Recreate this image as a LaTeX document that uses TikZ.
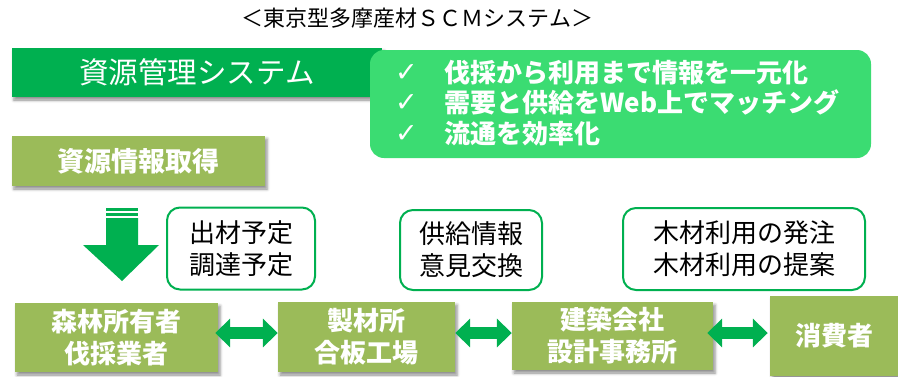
\documentclass[tikz,border=0pt]{standalone}
\usepackage{fontspec}
\setmainfont{Noto Sans CJK JP}
\newfontfamily\symfont{DejaVu Sans}
\usetikzlibrary{arrows.meta,shadows.blur,calc}
\definecolor{dkgreen}{HTML}{00B050}
\definecolor{ltgreen}{HTML}{3BDC72}
\definecolor{olive}{HTML}{9BBB59}
\tikzset{
  shadowed/.style={blur shadow={shadow xshift=2pt,shadow yshift=-3pt,shadow blur radius=3pt,shadow opacity=45}},
  olivebox/.style={fill=olive,draw=none,shadowed,text=white,font=\fontsize{26}{32}\selectfont\bfseries,align=center,inner sep=0pt},
  notebox/.style={draw=dkgreen,line width=2pt,rounded corners=13pt,fill=white,text=black,font=\fontsize{26}{32}\selectfont,align=center,inner sep=0pt},
  dbl/.style={draw=dkgreen,line width=12pt,{Triangle[length=15pt,width=28pt]}-{Triangle[length=15pt,width=28pt]}},
}
\newcommand{\chk}{\makebox[49pt][l]{\raisebox{1pt}{\symfont\fontsize{27}{27}\selectfont ✓}}}
\begin{document}
\begin{tikzpicture}[x=1pt,y=-1pt]
\useasboundingbox (0,0) rectangle (898,376);
% title
\node[font=\fontsize{22}{26}\selectfont,inner sep=0pt] (title) at (417.5,18) {＜東京型多摩産材ＳＣＭシステム＞};
% resource management system
\node[fill=dkgreen,shadowed,minimum width=370pt,minimum height=49pt,inner sep=0pt,text=white,font=\fontsize{29.5}{30}\selectfont] (sys) at (197,72.5) {資源管理システム};
% features box
\node[fill=ltgreen,rounded corners=14pt,minimum width=501pt,minimum height=108pt,inner sep=0pt] (feat) at (620.5,104) {};
\node[anchor=west,text=white,align=left,inner sep=0pt,font=\fontsize{26}{30.5}\selectfont\bfseries] (feattext) at (395,103)
  {\chk 伐採から利用まで情報を一元化\\\chk 需要と供給をWeb上でマッチング\\\chk 流通を効率化};
% resource info
\node[olivebox,minimum width=253pt,minimum height=50pt,font=\fontsize{27}{30}\selectfont\bfseries] (info) at (138.5,161) {資源情報取得};
% down arrow
\fill[dkgreen] (106,218) -- (138,218) -- (138,245) -- (159,245) -- (122,281) -- (83,245) -- (106,245) -- cycle;
\fill[dkgreen] (106,208) rectangle (138,210.5);
\fill[dkgreen] (106,212.5) rectangle (138,215.5);
% notes
\node[notebox,minimum width=148pt,minimum height=82pt] (n1) at (241,248.5) {出材予定\\調達予定};
\node[notebox,minimum width=142pt,minimum height=80pt] (n2) at (471,250) {供給情報\\意見交換};
\node[notebox,minimum width=242pt,minimum height=82pt] (n3) at (744,249) {木材利用の発注\\木材利用の提案};
% bottom boxes
\node[olivebox,minimum width=203pt,minimum height=69pt] (b1) at (116.5,337.5) {森林所有者\\伐採業者};
\node[olivebox,minimum width=177pt,minimum height=70pt] (b2) at (366.5,337) {製材所\\合板工場};
\node[olivebox,minimum width=201pt,minimum height=68pt] (b3) at (612.5,336) {建築会社\\設計事務所};
\node[olivebox,minimum width=128pt,minimum height=80pt] (b4) at (834,336) {消費者};
% double arrows
\draw[dbl] ($(b1.east)+(-3,-4.5)$) -- ($(b2.west)+(0,-4)$);
\draw[dbl] ($(b2.east)+(0,-4)$) -- ($(b3.west)+(0,-3)$);
\draw[dbl] ($(b3.east)+(-6,-3)$) -- ($(b4.west)+(-2,-3)$);
\end{tikzpicture}
\end{document}
